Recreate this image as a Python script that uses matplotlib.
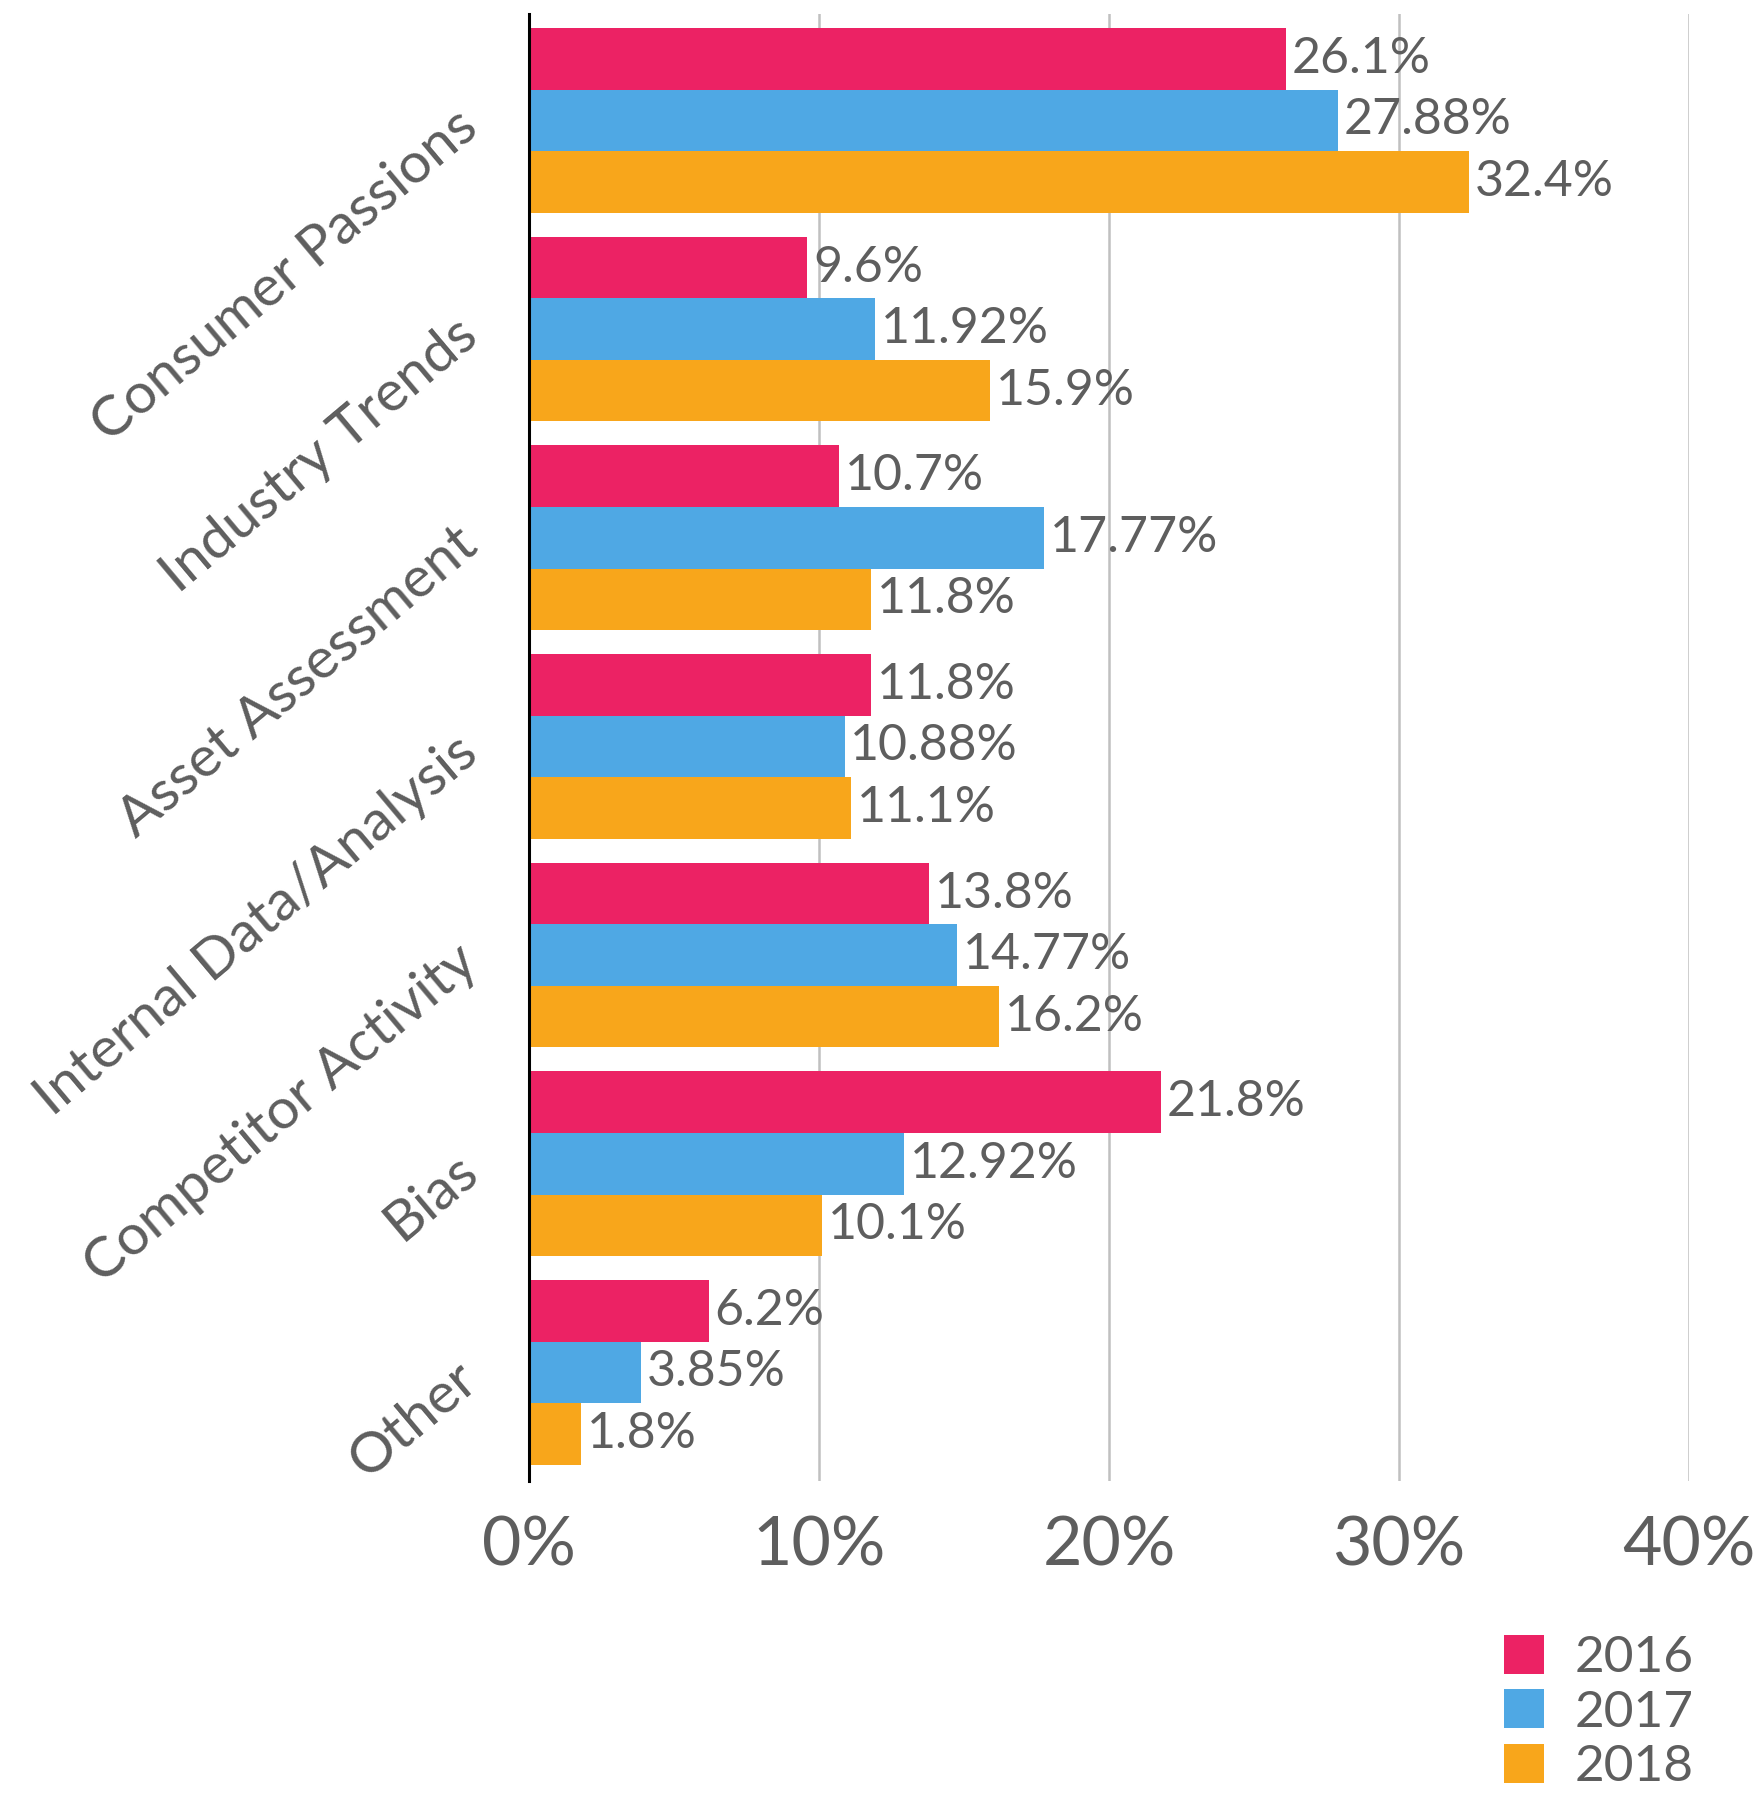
import matplotlib
matplotlib.use("Agg")
import matplotlib.pyplot as plt
from matplotlib.patches import Patch
import numpy as np

# ── Data ─────────────────────────────────────────────────────────────
categories = ["Consumer Passions", "Industry Trends", "Asset Assessment",
              "Internal Data/Analysis", "Competitor Activity", "Bias", "Other"]
years = ["2016", "2017", "2018"]
vals_2016 = [26.1, 9.6, 10.7, 11.8, 13.8, 21.8, 6.2]
vals_2017 = [27.88, 11.92, 17.77, 10.88, 14.77, 12.92, 3.85]
vals_2018 = [32.4, 15.9, 11.8, 11.1, 16.2, 10.1, 1.8]
labels_2016 = ["26.1%", "9.6%", "10.7%", "11.8%", "13.8%", "21.8%", "6.2%"]
labels_2017 = ["27.88%", "11.92%", "17.77%", "10.88%", "14.77%", "12.92%", "3.85%"]
labels_2018 = ["32.4%", "15.9%", "11.8%", "11.1%", "16.2%", "10.1%", "1.8%"]
x_ticks = [0, 10, 20, 30, 40]
x_ticklabels = ["0%", "10%", "20%", "30%", "40%"]

colors = ["#EC2264", "#4FA8E4", "#F8A61B"]
text_color = "#5e5e5e"

plt.rcParams["font.family"] = ["Lato", "DejaVu Sans"]

fig = plt.figure(figsize=(17.61, 17.96), dpi=100)
ax = fig.add_axes([0.3004, 0.1754, 0.6587, 0.8168])

y = np.arange(len(categories))
bar_h = 0.295
series = [(vals_2016, labels_2016), (vals_2017, labels_2017), (vals_2018, labels_2018)]
for k, (vals, labs) in enumerate(series):
    pos = y + (k - 1) * bar_h
    ax.barh(pos, vals, height=bar_h, color=colors[k], label=years[k], zorder=2)
    for p, v, lab in zip(pos, vals, labs):
        ax.text(v + 0.2, p, lab, va="center", ha="left", fontsize=36,
                color=text_color, zorder=3)

ax.set_xlim(0, 40)
ax.set_ylim(6.52, -0.51)

ax.set_xticks(x_ticks)
ax.set_xticklabels(x_ticklabels, fontsize=49, color=text_color)
ax.set_yticks(y)
ax.set_yticklabels(categories, fontsize=41, color=text_color,
                   rotation=40, ha="right", va="center", rotation_mode="anchor")
ax.tick_params(axis="both", length=0)
ax.tick_params(axis="x", pad=25)
ax.tick_params(axis="y", pad=42)

ax.xaxis.grid(True, color="#c0c0c0", linewidth=1.8, zorder=0)
ax.set_axisbelow(True)
for s in ["top", "right", "bottom"]:
    ax.spines[s].set_visible(False)
ax.spines["left"].set_linewidth(2.2)
ax.spines["left"].set_color("black")
ax.spines["left"].set_zorder(4)

handles = [Patch(facecolor=c, edgecolor="none") for c in colors]
fig.legend(handles, years, loc="upper left",
           bbox_to_anchor=(1504 / 1761, 1 - 1635 / 1796),
           frameon=False, fontsize=37, borderpad=0, borderaxespad=0,
           handlelength=0.78, handleheight=0.78, handletextpad=0.6,
           labelspacing=0.16, labelcolor=text_color)

fig.savefig("out.png", dpi=100)
